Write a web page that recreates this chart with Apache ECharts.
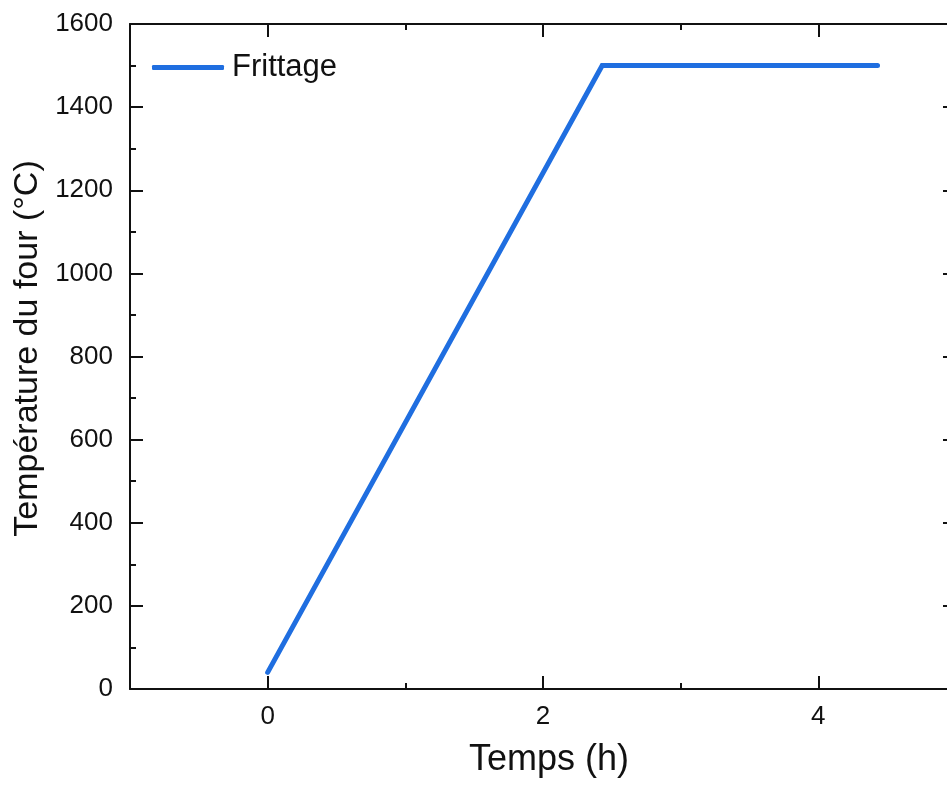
<!DOCTYPE html>
<html><head><meta charset="utf-8">
<script src="https://cdn.jsdelivr.net/npm/echarts@6/dist/echarts.min.js"></script>
<style>html,body{margin:0;padding:0;background:#fff}#c{width:947px;height:787px}</style>
</head><body><div id="c"></div>
<script>
const seriesName = 'Frittage';
const timeH = [0, 2.43, 4.43];
const tempC = [40, 1500, 1500];
const xMajorTicks = [0, 2, 4];
const xMinorTicks = [1, 3];
const xLabel = 'Temps (h)';
const yLabel = 'Température du four (°C)';

const FONT = 'Liberation Sans, Arial, sans-serif';
const AX = '#111';
const BLUE = '#1f6ee0';
const chart = echarts.init(document.getElementById('c'), null, {renderer: 'canvas'});
const baseX = {type: 'value', min: -1, max: 5, gridIndex: 0, splitLine: {show: false}};
chart.setOption({
  animation: false,
  backgroundColor: '#fff',
  textStyle: {fontFamily: FONT},
  grid: {left: 130, top: 24, right: -9, bottom: 98, containLabel: false, outerBoundsMode: 'none'},
  legend: {
    left: 147, top: 47, itemWidth: 72, itemHeight: 5, icon: 'roundRect',
    itemStyle: {color: BLUE},
    textStyle: {fontSize: 31, color: '#111', fontFamily: FONT, padding: [0, 0, 0, 3]},
    data: [seriesName]
  },
  xAxis: [
    Object.assign({}, baseX, {
      position: 'bottom',
      name: xLabel, nameLocation: 'middle', nameGap: 53,
      nameTextStyle: {fontSize: 36, color: '#111', fontFamily: FONT, padding: [0, 0, 0, 12]},
      axisLine: {show: true, onZero: false, lineStyle: {color: AX, width: 2}},
      axisTick: {show: true, inside: true, length: 13, lineStyle: {color: AX, width: 2}, customValues: xMajorTicks},
      axisLabel: {show: true, margin: 15, fontSize: 26, color: '#111', fontFamily: FONT, customValues: xMajorTicks,
                  formatter: v => String(v)}
    }),
    Object.assign({}, baseX, {
      position: 'bottom',
      axisLine: {show: false, onZero: false},
      axisTick: {show: true, inside: true, length: 6, lineStyle: {color: AX, width: 2}, customValues: xMinorTicks},
      axisLabel: {show: false}
    }),
    Object.assign({}, baseX, {
      position: 'top',
      axisLine: {show: true, onZero: false, lineStyle: {color: AX, width: 2}},
      axisTick: {show: true, inside: true, length: 13, lineStyle: {color: AX, width: 2}, customValues: xMajorTicks},
      axisLabel: {show: false}
    }),
    Object.assign({}, baseX, {
      position: 'top',
      axisLine: {show: false, onZero: false},
      axisTick: {show: true, inside: true, length: 6, lineStyle: {color: AX, width: 2}, customValues: xMinorTicks},
      axisLabel: {show: false}
    })
  ],
  yAxis: [
    {
      type: 'value', min: 0, max: 1600, interval: 200, position: 'left',
      name: yLabel, nameLocation: 'middle', nameGap: 84, nameRotate: 90,
      nameTextStyle: {fontSize: 34, color: '#111', fontFamily: FONT, padding: [0, 0, 0, 16]},
      axisLine: {show: true, onZero: false, lineStyle: {color: AX, width: 2}},
      axisTick: {show: true, inside: true, length: 13, lineStyle: {color: AX, width: 2}},
      minorTick: {show: true, splitNumber: 2, length: 6, lineStyle: {color: AX, width: 2}},
      axisLabel: {show: true, margin: 17, fontSize: 26, color: '#111', fontFamily: FONT, formatter: v => String(v)},
      splitLine: {show: false}
    },
    {
      type: 'value', min: 0, max: 1600, interval: 200, position: 'right',
      axisLine: {show: true, onZero: false, lineStyle: {color: AX, width: 2}},
      axisTick: {show: true, inside: true, length: 13, lineStyle: {color: AX, width: 2}},
      minorTick: {show: true, splitNumber: 2, length: 6, lineStyle: {color: AX, width: 2}},
      axisLabel: {show: false},
      splitLine: {show: false}
    }
  ],
  series: [{
    name: seriesName, type: 'line', xAxisIndex: 0, yAxisIndex: 0,
    data: timeH.map((t, i) => [t, tempC[i]]),
    showSymbol: false, symbol: 'none',
    lineStyle: {color: BLUE, width: 5, cap: 'round', join: 'miter'},
    itemStyle: {color: BLUE}
  }]
});
</script></body></html>
